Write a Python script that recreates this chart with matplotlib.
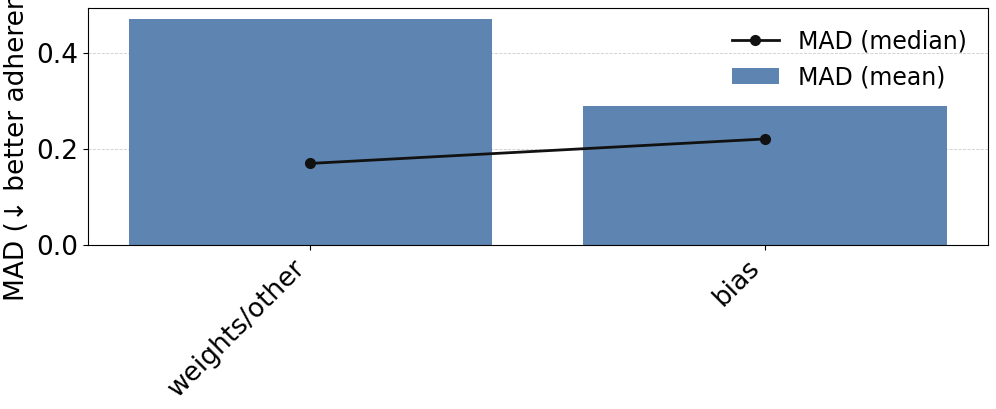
import matplotlib
matplotlib.use("Agg")
import matplotlib.pyplot as plt
import numpy as np

categories = ["weights/other", "bias"]
mad_mean = [0.47, 0.29]
mad_median = [0.17, 0.221]

plt.rcParams['font.family'] = ['DejaVu Sans']

fig, ax = plt.subplots(figsize=(9.96, 4.09), dpi=100)
fig.subplots_adjust(left=0.088, right=0.992, top=0.980, bottom=0.401)

x = np.arange(len(categories))
bars = ax.bar(x, mad_mean, width=0.8, color="#5E84B2", label="MAD (mean)", zorder=2)
line, = ax.plot(x, mad_median, color="#111111", marker="o", markersize=7,
                linewidth=2, label="MAD (median)", zorder=3)

ax.set_xticks(x)
ax.set_xticklabels(categories, rotation=45, ha="right", fontsize=19)
ax.tick_params(axis="y", labelsize=19)
ax.set_yticks([0.0, 0.2, 0.4])
ax.set_ylabel("MAD (\u2193 better adherence)", fontsize=19)
ax.yaxis.grid(True, linestyle="--", linewidth=0.6, color="#cccccc", zorder=0)
ax.set_axisbelow(True)

ax.legend(handles=[line, bars], loc="upper right", frameon=False, fontsize=17)

fig.savefig("out.png", dpi=100)
